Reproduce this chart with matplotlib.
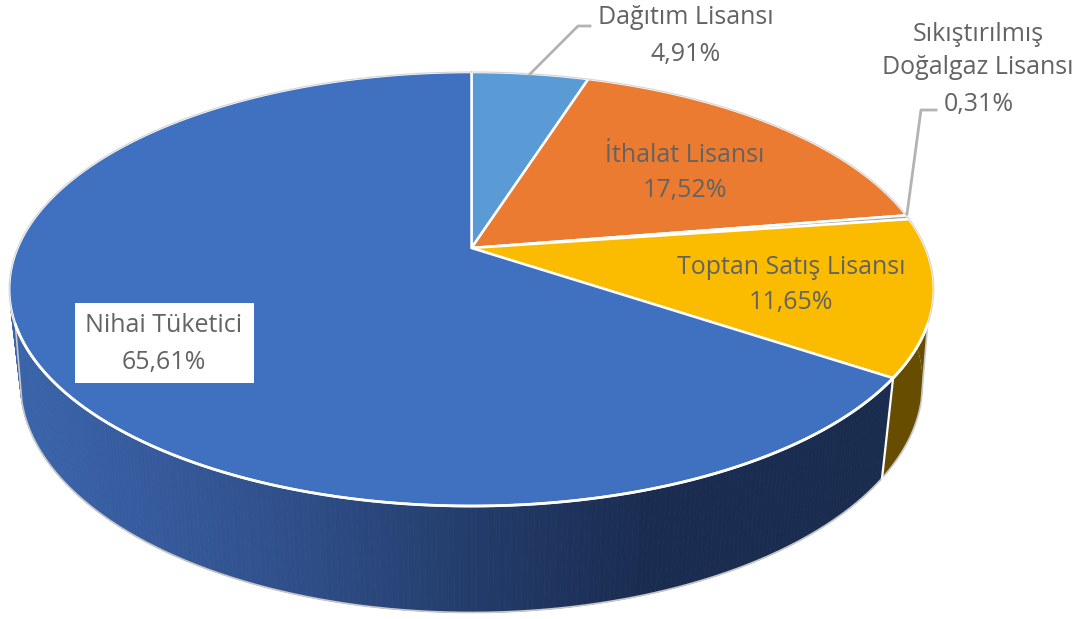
import numpy as np
import matplotlib
matplotlib.use("Agg")
import matplotlib.pyplot as plt
from matplotlib.colors import to_rgb
from matplotlib.patches import Polygon, Rectangle

# slices clockwise from 12 o'clock
labels = ["Dağıtım Lisansı", "İthalat Lisansı", "Sıkıştırılmış\nDoğalgaz Lisansı", "Toptan Satış Lisansı", "Nihai Tüketici"]
shares = [4.91, 17.52, 0.31, 11.65, 65.61]
share_text = ["4,91%", "17,52%", "0,31%", "11,65%", "65,61%"]
top_colors = ["#5b9bd5", "#eb7b30", "#a5a5a5", "#fbbc00", "#4070c0"]

plt.rcParams["font.family"] = ["Open Sans", "DejaVu Sans"]
txt = "#636363"

# perspective of the tilted pie, in pixels of the picture
cx, cy = 471.5, 248
rx, ry = 454, 162.4
persp = 0.189
depth_w, depth_y = 0.024, 101


def project(ang, drop=0):
    # ang is clockwise from the top, drop=1 gives the bottom rim
    u, v = np.sin(ang), np.cos(ang)
    w = 1 + persp * v + depth_w * drop
    return cx + rx * u / w, (cy - ry * v + depth_y * drop) / w


def rim(a0, a1, drop=0, n=200):
    x, y = project(np.linspace(a0, a1, n), drop)
    return np.column_stack([x, y])


fig = plt.figure(figsize=(10.85, 6.19), dpi=100)
ax = fig.add_axes([0, 0, 1, 1])
ax.set_xlim(0, 1085)
ax.set_ylim(619, 0)
ax.axis("off")

edges = np.radians(np.cumsum([0] + shares) * 3.6)
d2r = np.pi / 180

# side wall, dark gradient on the blue slice
grad_x = [10, 150, 300, 470, 650, 900]
grad_c = [to_rgb(c) for c in ["#3a65aa", "#365a9c", "#2f4e88", "#233c6b", "#1a2c50", "#1a2c4e"]]
angs = np.linspace(edges[4], edges[5], 400)
for a0, a1 in zip(angs[:-1], angs[1:]):
    xm = project((a0 + a1) / 2)[0]
    col = [np.interp(xm, grad_x, [c[i] for c in grad_c]) for i in range(3)]
    pts = np.vstack([rim(a0, a1, 0, 3), rim(a1, a0, 1, 3)])
    ax.add_patch(Polygon(pts, closed=True, fc=col, ec=col, lw=0.6, zorder=2))

# silhouette of the wall on the left, top rim at 250 deg to bottom rim at 255 deg
pts = np.vstack([rim(250 * d2r, 270 * d2r, 0, 40), rim(270 * d2r, 255 * d2r, 1, 40)])
ax.add_patch(Polygon(pts, closed=True, fc="#3a65aa", ec="#3a65aa", lw=0.6, zorder=2))

# yellow slice wall, with the same silhouette on the right
pts = np.vstack([rim(edges[3], edges[4], 0), rim(edges[4], edges[3], 1)])
ax.add_patch(Polygon(pts, closed=True, fc="#664d00", ec="none", zorder=2))
pts = np.vstack([rim(90 * d2r, 110 * d2r, 0, 40), rim(105 * d2r, 90 * d2r, 1, 40)])
ax.add_patch(Polygon(pts, closed=True, fc="#664d00", ec="none", zorder=2))

# outer outline and the white seam between the two walls
outline = np.vstack([[project(110 * d2r, 0)], rim(105 * d2r, 255 * d2r, 1, 400), [project(250 * d2r, 0)]])
ax.plot(outline[:, 0], outline[:, 1], color="#c8c8c8", lw=1.2, zorder=3)
sx0, sy0 = project(edges[4], 0)
sx1, sy1 = project(edges[4], 1)
ax.plot([sx0, sx1], [sy0, sy1], color="white", lw=1.6, zorder=3)

# top face
for a0, a1, c in zip(edges[:-1], edges[1:], top_colors):
    pts = np.vstack([[cx, cy], rim(a0, a1)])
    ax.add_patch(Polygon(pts, closed=True, fc=c, ec="white", lw=1.8, joinstyle="round", zorder=4))
ax.plot(*rim(0, 2 * np.pi, 0, 500).T, color="#d4d4d4", lw=0.8, zorder=4)
ax.plot(*rim(110 * d2r, 250 * d2r, 0, 300).T, color="white", lw=2, zorder=4)

# leader lines
ax.plot([530, 578, 590], [74, 26, 26], color="#b3b3b3", lw=2, zorder=5)
ax.plot([907, 921, 936], [214, 110, 110], color="#b3b3b3", lw=2, zorder=5)

# labels
ax.add_patch(Rectangle((75, 303), 179, 80, fc="white", ec="none", zorder=5))
name_pos = [(686, 18), (685, 155), (978, 51), (791, 268), (164, 326)]
pct_pos = [(686, 54), (685, 190), (979, 104), (791, 302), (164, 363)]
for lab, pct, p, q in zip(labels, share_text, name_pos, pct_pos):
    ax.text(p[0], p[1], lab, color=txt, fontsize=18, ha="center", va="center", linespacing=1.4, zorder=6)
    ax.text(q[0], q[1], pct, color=txt, fontsize=18, ha="center", va="center", zorder=6)

fig.savefig("out.png", dpi=100)
